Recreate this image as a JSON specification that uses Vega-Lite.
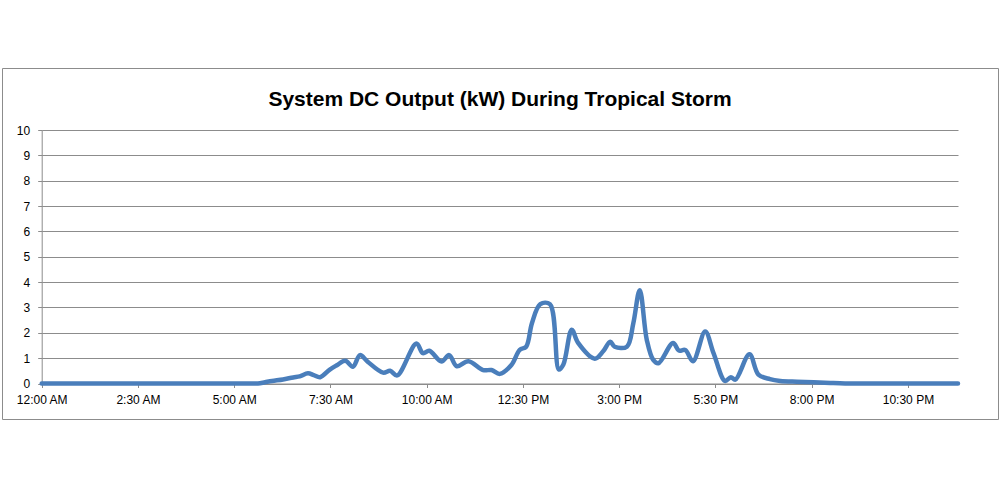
{
  "$schema": "https://vega.github.io/schema/vega-lite/v6.json",
  "autosize": {"type": "none"},
  "padding": {"left": 2, "top": 68, "right": 2, "bottom": 66},
  "width": 996,
  "height": 351,
  "background": "white",
  "title": {
    "text": "System DC Output (kW) During Tropical Storm",
    "font": "Liberation Sans",
    "fontSize": 21,
    "fontWeight": "bold",
    "color": "#000000",
    "anchor": "middle",
    "baseline": "alphabetic",
    "offset": -59
  },
  "config": {
    "view": {"stroke": "#8c8c8c", "strokeWidth": 1},
    "axis": {
      "labelFont": "Liberation Sans",
      "labelFontSize": 12,
      "labelColor": "#000000",
      "domainColor": "#8c8c8c",
      "tickColor": "#8c8c8c",
      "gridColor": "#8c8c8c",
      "title": null
    }
  },
  "data": {
    "values": [
      {"time": "2024-01-01T00:00", "kW": 0},
      {"time": "2024-01-01T01:00", "kW": 0},
      {"time": "2024-01-01T02:00", "kW": 0},
      {"time": "2024-01-01T03:00", "kW": 0},
      {"time": "2024-01-01T04:00", "kW": 0},
      {"time": "2024-01-01T05:00", "kW": 0},
      {"time": "2024-01-01T05:20", "kW": 0},
      {"time": "2024-01-01T05:37", "kW": 0},
      {"time": "2024-01-01T05:48", "kW": 0.05},
      {"time": "2024-01-01T05:59", "kW": 0.1},
      {"time": "2024-01-01T06:16", "kW": 0.16},
      {"time": "2024-01-01T06:32", "kW": 0.24},
      {"time": "2024-01-01T06:42", "kW": 0.28},
      {"time": "2024-01-01T06:55", "kW": 0.4},
      {"time": "2024-01-01T07:04", "kW": 0.33},
      {"time": "2024-01-01T07:14", "kW": 0.25},
      {"time": "2024-01-01T07:29", "kW": 0.55},
      {"time": "2024-01-01T07:40", "kW": 0.72},
      {"time": "2024-01-01T07:53", "kW": 0.9},
      {"time": "2024-01-01T08:05", "kW": 0.66},
      {"time": "2024-01-01T08:16", "kW": 1.12},
      {"time": "2024-01-01T08:28", "kW": 0.86},
      {"time": "2024-01-01T08:52", "kW": 0.43},
      {"time": "2024-01-01T09:03", "kW": 0.5},
      {"time": "2024-01-01T09:14", "kW": 0.32},
      {"time": "2024-01-01T09:44", "kW": 1.58},
      {"time": "2024-01-01T09:54", "kW": 1.2},
      {"time": "2024-01-01T10:04", "kW": 1.29},
      {"time": "2024-01-01T10:23", "kW": 0.87},
      {"time": "2024-01-01T10:35", "kW": 1.12},
      {"time": "2024-01-01T10:47", "kW": 0.68},
      {"time": "2024-01-01T11:05", "kW": 0.88},
      {"time": "2024-01-01T11:28", "kW": 0.53},
      {"time": "2024-01-01T11:41", "kW": 0.53},
      {"time": "2024-01-01T11:54", "kW": 0.38},
      {"time": "2024-01-01T12:12", "kW": 0.73},
      {"time": "2024-01-01T12:25", "kW": 1.33},
      {"time": "2024-01-01T12:35", "kW": 1.45},
      {"time": "2024-01-01T12:44", "kW": 2.38},
      {"time": "2024-01-01T12:57", "kW": 3.13},
      {"time": "2024-01-01T13:12", "kW": 3.13},
      {"time": "2024-01-01T13:26", "kW": 0.55},
      {"time": "2024-01-01T13:33", "kW": 0.75},
      {"time": "2024-01-01T13:46", "kW": 2.12},
      {"time": "2024-01-01T13:56", "kW": 1.6},
      {"time": "2024-01-01T14:22", "kW": 0.98},
      {"time": "2024-01-01T14:35", "kW": 1.27},
      {"time": "2024-01-01T14:46", "kW": 1.65},
      {"time": "2024-01-01T14:53", "kW": 1.45},
      {"time": "2024-01-01T15:12", "kW": 1.45},
      {"time": "2024-01-01T15:22", "kW": 2.38},
      {"time": "2024-01-01T15:32", "kW": 3.68},
      {"time": "2024-01-01T15:43", "kW": 1.72},
      {"time": "2024-01-01T15:53", "kW": 0.93},
      {"time": "2024-01-01T16:01", "kW": 0.8},
      {"time": "2024-01-01T16:24", "kW": 1.6},
      {"time": "2024-01-01T16:33", "kW": 1.3},
      {"time": "2024-01-01T16:43", "kW": 1.32},
      {"time": "2024-01-01T16:55", "kW": 0.88},
      {"time": "2024-01-01T17:14", "kW": 2.05},
      {"time": "2024-01-01T17:27", "kW": 1.2},
      {"time": "2024-01-01T17:45", "kW": 0.1},
      {"time": "2024-01-01T17:54", "kW": 0.25},
      {"time": "2024-01-01T18:01", "kW": 0.15},
      {"time": "2024-01-01T18:23", "kW": 1.15},
      {"time": "2024-01-01T18:37", "kW": 0.35},
      {"time": "2024-01-01T18:55", "kW": 0.17},
      {"time": "2024-01-01T19:11", "kW": 0.1},
      {"time": "2024-01-01T19:37", "kW": 0.07},
      {"time": "2024-01-01T20:03", "kW": 0.05},
      {"time": "2024-01-01T20:29", "kW": 0.02},
      {"time": "2024-01-01T20:52", "kW": 0},
      {"time": "2024-01-01T21:30", "kW": 0},
      {"time": "2024-01-01T22:15", "kW": 0},
      {"time": "2024-01-01T23:00", "kW": 0},
      {"time": "2024-01-01T23:48", "kW": 0}
    ]
  },
  "mark": {
    "type": "line",
    "interpolate": "catmull-rom",
    "color": "#4a7ebb",
    "strokeWidth": 4.5,
    "strokeCap": "round",
    "strokeJoin": "round"
  },
  "encoding": {
    "x": {
      "field": "time",
      "type": "temporal",
      "scale": {
        "domain": [
          {"year": 2024, "month": 1, "date": 1, "hours": 0, "minutes": 0},
          {"year": 2024, "month": 1, "date": 1, "hours": 23, "minutes": 48}
        ],
        "range": [39.7, 956],
        "nice": false
      },
      "axis": {
        "orient": "bottom",
        "offset": -35.5,
        "grid": false,
        "format": "%-I:%M %p",
        "formatType": "time",
        "labelFlush": false,
        "labelOverlap": false,
        "tickSize": 4,
        "labelPadding": 7,
        "values": [
          {"year": 2024, "month": 1, "date": 1, "hours": 0, "minutes": 0},
          {"year": 2024, "month": 1, "date": 1, "hours": 2, "minutes": 30},
          {"year": 2024, "month": 1, "date": 1, "hours": 5, "minutes": 0},
          {"year": 2024, "month": 1, "date": 1, "hours": 7, "minutes": 30},
          {"year": 2024, "month": 1, "date": 1, "hours": 10, "minutes": 0},
          {"year": 2024, "month": 1, "date": 1, "hours": 12, "minutes": 30},
          {"year": 2024, "month": 1, "date": 1, "hours": 15, "minutes": 0},
          {"year": 2024, "month": 1, "date": 1, "hours": 17, "minutes": 30},
          {"year": 2024, "month": 1, "date": 1, "hours": 20, "minutes": 0},
          {"year": 2024, "month": 1, "date": 1, "hours": 22, "minutes": 30}
        ]
      }
    },
    "y": {
      "field": "kW",
      "type": "quantitative",
      "scale": {"domain": [0, 10], "range": [315.5, 62], "nice": false},
      "axis": {
        "orient": "left",
        "offset": -39.7,
        "grid": true,
        "values": [0, 1, 2, 3, 4, 5, 6, 7, 8, 9, 10],
        "tickSize": 4,
        "labelPadding": 8
      }
    }
  }
}
